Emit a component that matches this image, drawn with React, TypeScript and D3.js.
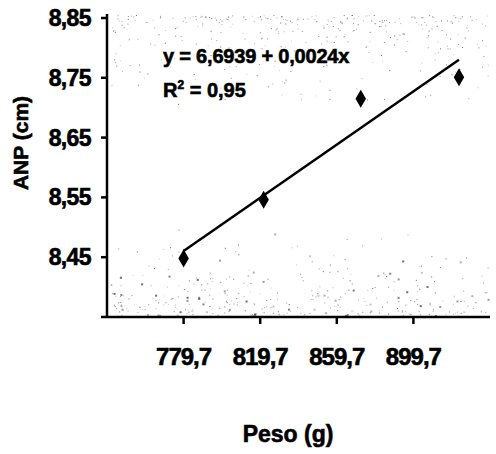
import React from 'react';
import * as d3 from 'd3';

// pontos
const peso = [779.7, 821.5, 872.2, 923.5];
const anp = [8.448, 8.546, 8.715, 8.751];
const xTicks = [779.7, 819.7, 859.7, 899.7];
const yTicks = [8.45, 8.55, 8.65, 8.75, 8.85];
const equation = 'y = 6,6939 + 0,0024x';
const r2 = '0,95';

const W = 496;
const H = 454;
const left = 107;
const right = 490;
const top = 18;
const bottom = 317;

const fmt = (v: number, d: number) => v.toFixed(d).replace('.', ',');

export default function App() {
  const x = d3.scaleLinear().domain([739.7, 939.7]).range([left, right]);
  const y = d3.scaleLinear().domain([8.35, 8.85]).range([bottom, top]);

  // regressão linear simples
  const mx = d3.mean(peso)!;
  const my = d3.mean(anp)!;
  const sxy = d3.sum(peso, (v, i) => (v - mx) * (anp[i] - my));
  const sxx = d3.sum(peso, (v) => (v - mx) ** 2);
  const b = sxy / sxx;
  const a = my - b * mx;
  const x0 = d3.min(peso)!;
  const x1 = d3.max(peso)!;

  const line = d3.line<number>().x((d) => x(d)).y((d) => y(a + b * d));
  const diamond = d3.symbol().type(d3.symbolDiamond).size(95)();

  const font = "'Liberation Sans', Arial, sans-serif";

  // pontilhado de fundo (textura)
  const rnd = d3.randomLcg(7);
  const dots: [number, number, number][] = [];
  for (let i = 0; i < 700; i++) {
    const r = rnd();
    const px = left + 2 + rnd() * (right - left - 4);
    const py = r < 0.5 ? top - 3 + rnd() * rnd() * 100 : bottom - 2 - rnd() * rnd() * 90;
    dots.push([px, py, r < 0.5 ? 1 : rnd() < 0.2 ? 2 : 1]);
  }

  return (
    <svg width={W} height={H} style={{ position: 'absolute', left: 0, top: 0, background: '#fff' }} fontFamily={font} fontWeight="bold" stroke="none">
      <g fill="#444">
        {dots.map((d, i) => (
          <rect key={i} x={d[0]} y={d[1]} width={d[2]} height={d[2]} opacity={0.3 + (i % 5) * 0.12} />
        ))}
      </g>

      <path d={line([x0, x1]) ?? ''} stroke="#000" strokeWidth={2.5} fill="none" />
      {peso.map((p, i) => (
        <path key={i} d={diamond ?? ''} transform={`translate(${x(p)},${y(anp[i])})`} fill="#000" />
      ))}

      {/* eixos */}
      <line x1={left} x2={left} y1={top - 4} y2={bottom} stroke="#000" strokeWidth={2.5} />
      <line x1={left - 6} x2={right} y1={bottom} y2={bottom} stroke="#000" strokeWidth={2.5} />
      <g fill="#000" stroke="#000" strokeWidth={0.6}>
        {yTicks.map((t) => (
          <g key={t}>
            <line x1={left - 6} x2={left} y1={y(t)} y2={y(t)} strokeWidth={2.5} />
            <text x={91} y={y(t) + 8} textAnchor="end" fontSize={23} letterSpacing={-0.6}>{fmt(t, 2)}</text>
          </g>
        ))}
        {xTicks.map((t) => (
          <g key={t}>
            <line x1={x(t)} x2={x(t)} y1={bottom} y2={bottom + 7} strokeWidth={2.5} />
            <text x={x(t)} y={365} textAnchor="middle" fontSize={24} letterSpacing={-1}>{fmt(t, 1)}</text>
          </g>
        ))}

        <text x={163} y={63} fontSize={20} letterSpacing={-0.2}>{equation}</text>
        <text x={163} y={97} fontSize={20}>
          R<tspan fontSize={12} dy={-8}>2</tspan><tspan dy={8}> = {r2}</tspan>
        </text>

        <text x={288} y={442} textAnchor="middle" fontSize={23}>Peso (g)</text>
        <text transform={`translate(28,${143}) rotate(-90)`} textAnchor="middle" fontSize={21}>ANP (cm)</text>
      </g>
    </svg>
  );
}
